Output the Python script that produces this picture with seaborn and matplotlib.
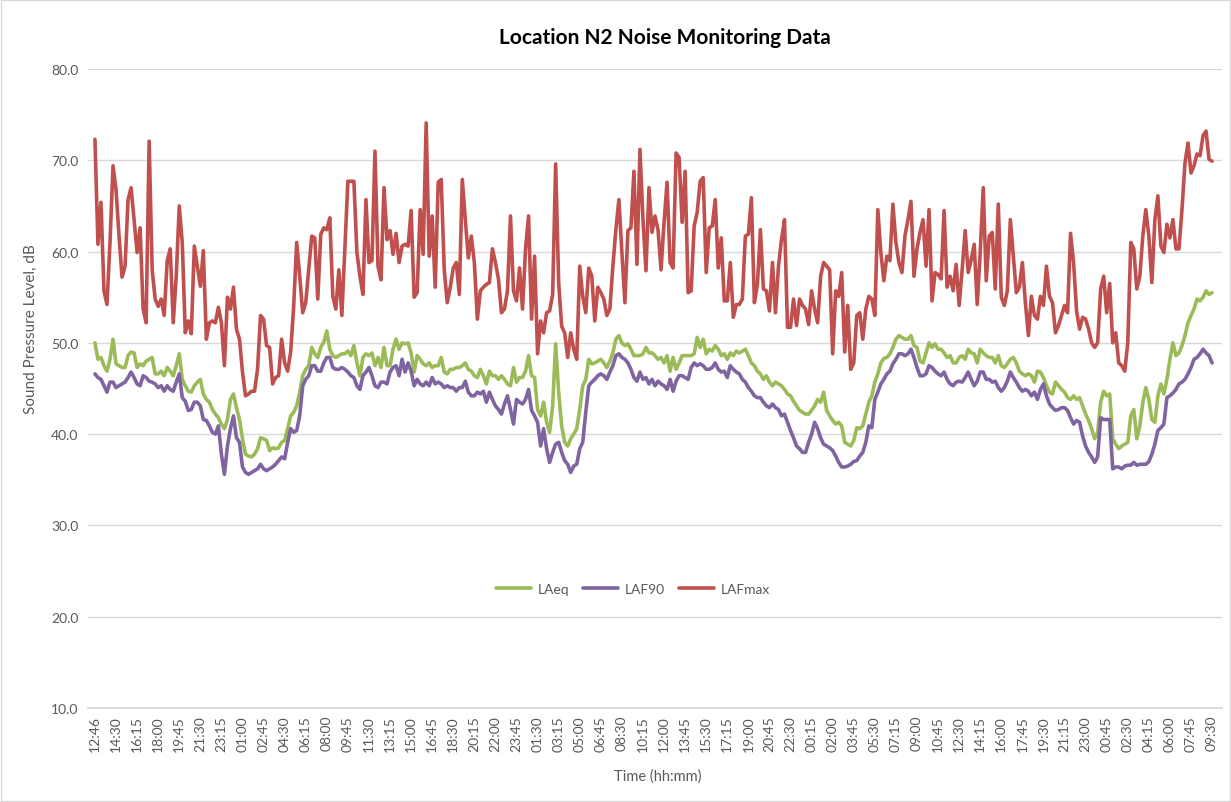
"""
plot.py
Location N2 noise monitoring data (LAeq / LAF90 / LAFmax, 15-min intervals).
"""

import numpy as np
import pandas as pd
import seaborn as sns
import matplotlib.pyplot as plt
from matplotlib.patches import Rectangle

# LAFmax, dB (one value per 15 min, starting 12:46)
lafmax = [
    72.3, 60.8, 65.4, 55.7, 54.2, 61.0, 69.4, 66.8, 61.7, 57.2,
    58.4, 65.7, 67.0, 63.5, 59.9, 62.6, 53.7, 52.2, 72.1, 58.0,
    54.8, 54.0, 54.8, 53.0, 59.0, 60.3, 52.2, 57.3, 65.0, 61.0,
    51.1, 52.4, 51.0, 60.6, 58.4, 56.2, 60.1, 50.4, 52.2, 52.4,
    52.2, 53.9, 52.2, 47.5, 55.0, 53.7, 56.1, 51.5, 50.4, 46.8,
    44.2, 44.4, 44.7, 44.7, 47.1, 53.0, 52.6, 49.7, 49.5, 45.5,
    46.2, 46.4, 50.4, 47.8, 46.9, 49.0, 54.0, 61.0, 57.3, 53.3,
    54.4, 58.0, 61.7, 61.5, 54.8, 61.9, 62.6, 62.4, 63.7, 55.1,
    53.7, 58.0, 53.0, 60.3, 67.7, 67.7, 67.7, 59.9, 57.3, 55.3,
    65.7, 58.8, 59.0, 71.0, 58.4, 56.9, 67.0, 61.3, 62.3, 59.7,
    62.0, 58.8, 60.6, 60.8, 60.6, 64.5, 55.0, 55.5, 64.6, 59.7,
    74.1, 59.5, 63.9, 56.1, 67.6, 67.9, 58.0, 54.4, 56.1, 58.2,
    58.8, 55.3, 67.9, 63.5, 59.3, 61.7, 58.8, 52.6, 55.7, 56.1,
    56.4, 56.6, 60.3, 58.8, 57.0, 53.3, 53.7, 55.7, 63.9, 55.7,
    54.6, 58.2, 53.7, 60.3, 63.9, 52.6, 59.5, 48.8, 52.4, 51.1,
    53.3, 53.5, 55.3, 69.6, 56.6, 51.8, 51.1, 48.4, 51.1, 49.3,
    48.2, 58.4, 55.1, 53.3, 58.2, 57.3, 52.4, 56.1, 55.5, 54.8,
    53.0, 53.7, 58.4, 62.4, 65.7, 59.9, 54.4, 62.3, 62.6, 68.8,
    58.6, 71.2, 63.5, 57.9, 67.0, 62.1, 63.9, 62.4, 58.0, 63.2,
    67.6, 58.8, 58.2, 70.8, 70.3, 63.2, 68.8, 55.5, 55.7, 62.8,
    64.3, 67.7, 68.1, 57.7, 62.6, 62.8, 65.7, 58.2, 61.5, 54.6,
    54.6, 58.8, 52.8, 54.2, 54.2, 54.8, 61.7, 61.9, 65.9, 54.4,
    56.4, 62.4, 55.9, 55.7, 53.5, 58.8, 53.3, 58.4, 61.3, 63.5,
    51.7, 51.7, 54.8, 51.9, 54.8, 54.1, 53.7, 52.0, 55.7, 53.7,
    52.2, 57.3, 58.8, 58.4, 58.0, 48.8, 55.7, 55.1, 57.7, 49.0,
    54.1, 47.1, 47.8, 53.0, 53.3, 50.4, 53.7, 55.1, 54.8, 53.0,
    64.6, 59.9, 56.8, 59.5, 59.0, 65.2, 61.0, 58.8, 57.7, 61.7,
    63.5, 65.5, 57.3, 60.3, 62.1, 63.5, 58.4, 64.6, 54.6, 57.7,
    57.5, 57.0, 64.5, 56.1, 57.3, 55.7, 58.6, 54.1, 58.0, 62.3,
    57.7, 59.1, 60.8, 54.2, 59.9, 67.0, 56.8, 61.7, 62.1, 55.9,
    65.2, 55.0, 54.1, 55.7, 63.5, 59.5, 55.5, 56.1, 58.8, 54.4,
    50.8, 55.1, 53.0, 52.6, 55.1, 54.1, 58.4, 55.1, 54.4, 51.1,
    51.9, 53.0, 54.1, 53.3, 62.0, 58.8, 53.5, 51.5, 52.8, 52.6,
    51.5, 50.0, 49.5, 50.0, 55.9, 57.3, 53.3, 56.5, 50.0, 51.1,
    47.8, 47.5, 46.9, 50.0, 61.0, 60.3, 55.9, 57.3, 61.7, 64.6,
    61.7, 56.6, 63.5, 66.1, 60.6, 59.9, 63.0, 61.5, 63.5, 60.3,
    60.3, 64.6, 69.7, 71.9, 68.6, 69.4, 70.7, 70.5, 72.7, 73.2,
    70.1, 69.9,
]

# LAeq, dB
laeq = [
    50.0, 48.2, 48.4, 47.5, 46.9, 48.2, 50.4, 47.7, 47.5, 47.3,
    47.3, 48.6, 49.0, 48.9, 47.3, 47.7, 47.5, 48.0, 48.2, 48.4,
    46.6, 46.6, 46.9, 46.4, 47.3, 46.9, 46.4, 47.5, 48.8, 46.0,
    45.3, 44.7, 44.6, 45.3, 45.7, 46.0, 44.4, 43.8, 43.5, 42.7,
    42.2, 41.8, 41.1, 40.6, 41.6, 43.8, 44.4, 42.9, 41.6, 39.5,
    37.8, 37.6, 37.5, 37.8, 38.4, 39.6, 39.5, 39.3, 38.2, 38.5,
    38.4, 38.5, 39.1, 39.3, 40.6, 42.0, 42.4, 43.1, 44.6, 46.4,
    47.1, 47.5, 49.5, 48.8, 48.4, 49.5, 50.1, 51.3, 49.3, 48.6,
    48.4, 48.6, 48.8, 48.8, 49.1, 48.6, 49.7, 47.8, 46.4, 48.4,
    48.8, 48.6, 48.9, 47.5, 48.4, 47.3, 49.5, 47.5, 47.5, 49.3,
    50.4, 49.3, 50.0, 49.9, 50.0, 48.9, 46.8, 48.6, 48.2, 47.7,
    47.5, 47.8, 47.3, 47.5, 47.5, 48.4, 46.8, 46.6, 47.1, 47.1,
    47.3, 47.3, 47.5, 47.8, 47.1, 46.9, 46.4, 46.2, 47.1, 46.4,
    45.5, 46.9, 46.4, 46.4, 46.0, 46.4, 46.0, 45.5, 45.3, 47.3,
    45.7, 46.2, 46.2, 46.9, 48.6, 46.4, 46.2, 42.7, 42.0, 43.5,
    41.3, 40.2, 43.1, 49.9, 44.6, 40.9, 39.1, 38.7, 39.5, 40.0,
    40.6, 42.7, 45.3, 46.0, 48.2, 47.7, 47.8, 48.0, 48.2, 47.8,
    47.3, 48.0, 48.9, 50.4, 50.8, 50.0, 49.7, 49.9, 49.3, 48.6,
    48.6, 48.6, 48.8, 49.5, 48.9, 48.9, 48.6, 48.2, 48.4, 47.8,
    48.6, 46.9, 48.4, 47.1, 47.8, 48.6, 48.6, 48.6, 48.6, 48.8,
    50.6, 49.5, 50.4, 48.8, 49.3, 49.1, 49.7, 49.3, 48.6, 48.8,
    48.2, 48.9, 48.6, 49.1, 48.9, 49.1, 49.3, 48.6, 47.8, 47.5,
    46.9, 46.6, 46.0, 46.4, 45.7, 45.3, 45.7, 45.5, 45.3, 44.9,
    44.4, 44.2, 43.6, 43.1, 42.6, 42.4, 42.2, 42.2, 42.6, 43.1,
    43.8, 43.5, 44.6, 42.6, 42.0, 41.5, 41.1, 41.3, 40.9, 39.1,
    38.9, 38.7, 39.3, 40.7, 40.6, 40.9, 42.2, 43.5, 44.2, 45.7,
    46.6, 47.8, 48.3, 48.4, 48.8, 49.5, 50.4, 50.8, 50.6, 50.4,
    50.4, 50.8, 49.7, 49.5, 48.0, 47.8, 48.9, 50.0, 49.5, 49.9,
    49.3, 49.3, 48.9, 48.4, 48.6, 47.8, 47.8, 48.4, 48.6, 48.2,
    49.3, 48.9, 48.8, 47.8, 49.3, 48.9, 48.6, 48.4, 48.4, 47.8,
    48.6, 47.5, 47.3, 47.7, 48.2, 48.4, 47.8, 46.9, 46.6, 46.4,
    46.6, 46.4, 45.7, 46.9, 46.8, 46.2, 45.3, 44.6, 44.4, 45.7,
    45.3, 44.9, 44.6, 44.0, 43.8, 44.2, 43.8, 44.0, 43.1, 42.2,
    41.5, 40.6, 39.5, 40.2, 43.5, 44.7, 44.2, 44.4, 39.5, 38.9,
    38.4, 38.7, 38.9, 39.1, 42.0, 42.7, 39.5, 40.9, 43.5, 45.1,
    43.8, 41.6, 41.3, 44.2, 45.5, 44.4, 46.0, 48.2, 50.0, 48.6,
    48.9, 49.7, 50.8, 52.2, 53.0, 53.7, 54.8, 54.6, 55.0, 55.7,
    55.3, 55.5,
]

# LAF90, dB
laf90 = [
    46.6, 46.2, 46.0, 45.3, 44.6, 45.7, 45.7, 45.1, 45.3, 45.5,
    45.7, 46.2, 46.8, 46.2, 45.5, 45.3, 46.4, 46.2, 45.8, 45.7,
    45.5, 45.1, 45.3, 44.7, 45.3, 44.9, 44.7, 45.7, 46.6, 44.0,
    43.6, 42.6, 42.7, 43.5, 43.5, 43.1, 41.6, 41.5, 40.9, 40.2,
    40.0, 40.9, 37.8, 35.6, 38.7, 40.6, 42.0, 39.6, 39.1, 36.4,
    35.8, 35.6, 35.8, 36.0, 36.2, 36.7, 36.2, 36.0, 36.2, 36.4,
    36.7, 37.1, 37.5, 37.3, 39.1, 40.6, 40.2, 40.4, 42.0, 45.3,
    46.0, 46.4, 47.5, 47.5, 46.9, 46.9, 47.8, 48.4, 48.4, 47.3,
    47.1, 47.1, 47.3, 47.1, 46.8, 46.4, 46.2, 45.3, 44.9, 46.4,
    46.8, 47.3, 46.4, 45.3, 45.1, 45.7, 45.7, 45.5, 46.8, 47.3,
    47.5, 46.4, 48.2, 46.8, 47.8, 46.9, 45.3, 46.0, 45.5, 45.3,
    45.7, 45.3, 46.2, 45.5, 45.7, 45.5, 45.1, 45.3, 45.1, 45.1,
    44.7, 45.1, 45.1, 45.8, 44.6, 44.2, 44.2, 44.6, 44.4, 44.7,
    43.5, 44.6, 43.8, 43.1, 42.7, 42.2, 43.3, 44.2, 42.7, 41.1,
    43.8, 43.5, 43.3, 43.8, 44.9, 42.6, 42.0, 41.3, 38.7, 40.6,
    38.4, 36.9, 38.0, 38.9, 39.1, 38.0, 37.1, 36.7, 35.8, 36.5,
    36.7, 38.4, 39.1, 42.4, 45.3, 45.7, 46.0, 46.4, 46.6, 46.4,
    46.0, 46.8, 47.5, 48.6, 48.8, 48.4, 48.2, 47.8, 47.1, 46.2,
    45.8, 46.8, 46.0, 46.2, 45.5, 46.0, 45.3, 45.8, 45.5, 45.3,
    44.9, 46.0, 44.7, 45.8, 46.4, 46.4, 46.2, 46.0, 47.3, 47.8,
    47.5, 47.7, 47.5, 47.1, 47.1, 47.3, 47.8, 47.1, 46.8, 46.9,
    46.2, 47.5, 47.1, 46.8, 46.6, 46.0, 45.7, 45.1, 44.7, 44.2,
    44.0, 44.0, 43.5, 43.1, 42.9, 43.3, 42.9, 42.7, 42.0, 42.2,
    41.3, 40.4, 39.6, 38.7, 38.4, 38.0, 38.0, 39.1, 40.0, 41.3,
    40.6, 39.6, 38.9, 38.7, 38.5, 38.2, 37.6, 36.9, 36.4, 36.4,
    36.5, 36.7, 37.0, 37.1, 37.6, 38.0, 39.1, 40.9, 40.7, 43.8,
    44.6, 45.5, 46.0, 46.6, 46.9, 47.7, 48.2, 48.8, 48.8, 48.6,
    48.8, 49.3, 48.4, 47.3, 46.4, 46.4, 46.6, 47.5, 47.3, 46.9,
    46.6, 46.4, 46.8, 46.0, 45.5, 45.3, 45.7, 45.8, 45.7, 46.2,
    46.8, 46.0, 45.3, 45.8, 46.8, 46.8, 46.0, 46.0, 45.7, 45.8,
    45.1, 44.7, 45.1, 45.8, 46.8, 46.2, 45.7, 45.1, 44.7, 44.9,
    44.7, 44.2, 44.6, 43.8, 44.9, 45.5, 44.2, 43.3, 42.9, 42.6,
    42.7, 42.9, 42.9, 42.6, 41.8, 41.1, 41.5, 41.3, 39.8, 38.7,
    38.0, 37.5, 36.9, 37.5, 41.8, 41.6, 41.6, 41.6, 36.2, 36.4,
    36.4, 36.2, 36.5, 36.6, 36.6, 36.9, 36.6, 36.7, 36.7, 36.7,
    37.0, 37.8, 38.9, 40.4, 40.7, 41.1, 44.0, 44.2, 44.5, 44.9,
    45.5, 45.7, 46.0, 46.6, 47.3, 48.2, 48.4, 48.8, 49.3, 48.9,
    48.6, 47.8,
]

# every 7th reading is labelled on the time axis
tick_labels = [
    "12:46", "14:30", "16:15", "18:00", "19:45", "21:30", "23:15", "01:00", "02:45", "04:30",
    "06:15", "08:00", "09:45", "11:30", "13:15", "15:00", "16:45", "18:30", "20:15", "22:00",
    "23:45", "01:30", "03:15", "05:00", "06:45", "08:30", "10:15", "12:00", "13:45", "15:30",
    "17:15", "19:00", "20:45", "22:30", "00:15", "02:00", "03:45", "05:30", "07:15", "09:00",
    "10:45", "12:30", "14:15", "16:00", "17:45", "19:30", "21:15", "23:00", "00:45", "02:30",
    "04:15", "06:00", "07:45", "09:30",
]
y_ticks = [10, 20, 30, 40, 50, 60, 70, 80]

TEXT = "#595959"
GRID = "#d9d9d9"
palette = {"LAeq": "#9bbb59", "LAF90": "#8064a2", "LAFmax": "#c0504d"}

sns.set_theme(style="white")
plt.rcParams["font.family"] = ["Lato", "DejaVu Sans"]

df = pd.DataFrame({"LAeq": laeq, "LAF90": laf90, "LAFmax": lafmax})
df["idx"] = np.arange(len(df))
long_df = df.melt(id_vars="idx", var_name="series", value_name="dB")

fig = plt.figure(figsize=(12.31, 8.03), dpi=100)
ax = fig.add_axes([0.0715, 0.1171, 0.9212, 0.7957])

sns.lineplot(data=long_df, x="idx", y="dB", hue="series",
             hue_order=["LAeq", "LAF90", "LAFmax"], palette=palette,
             linewidth=2.6, ax=ax)

ax.set_xlim(-2.3, len(lafmax) - 1 + 3.3)
ax.set_ylim(10, 80)
ax.set_yticks(y_ticks)
ax.set_yticklabels([f"{v:.1f}" for v in y_ticks])
ax.set_xticks(np.arange(len(tick_labels)) * 7)
ax.set_xticklabels(tick_labels, rotation=90)
ax.tick_params(axis="both", length=0, labelsize=10, colors=TEXT)
ax.tick_params(axis="y", pad=7)
ax.tick_params(axis="x", pad=5)

ax.yaxis.grid(True, color=GRID, linewidth=1)
ax.xaxis.grid(False)
for side in ["top", "right", "left"]:
    ax.spines[side].set_visible(False)
ax.spines["bottom"].set_color(GRID)

ax.set_xlabel("Time (hh:mm)", fontsize=10.5, color=TEXT)
ax.set_ylabel("Sound Pressure Level, dB", fontsize=11, color=TEXT)
ax.xaxis.set_label_coords(0.502, -0.094)
ax.yaxis.set_label_coords(-0.044, 0.594)

fig.text(665 / 1231, 1 - 38 / 803, "Location N2 Noise Monitoring Data",
         ha="center", va="center", fontsize=15, fontweight="bold", color="black")

leg = ax.legend(loc="center", bbox_to_anchor=(633 / 1231, 1 - 590 / 803),
                bbox_transform=fig.transFigure, ncol=3, frameon=False,
                fontsize=10, handlelength=2.5, handletextpad=0.5,
                columnspacing=1.0, title=None)
for txt in leg.get_texts():
    txt.set_color(TEXT)

# light chart border
fig.add_artist(Rectangle((0.0008, 0.0012), 0.9984, 0.9976, transform=fig.transFigure,
                         fill=False, edgecolor=GRID, linewidth=1))

fig.savefig("out.png", dpi=100)
plt.close(fig)
